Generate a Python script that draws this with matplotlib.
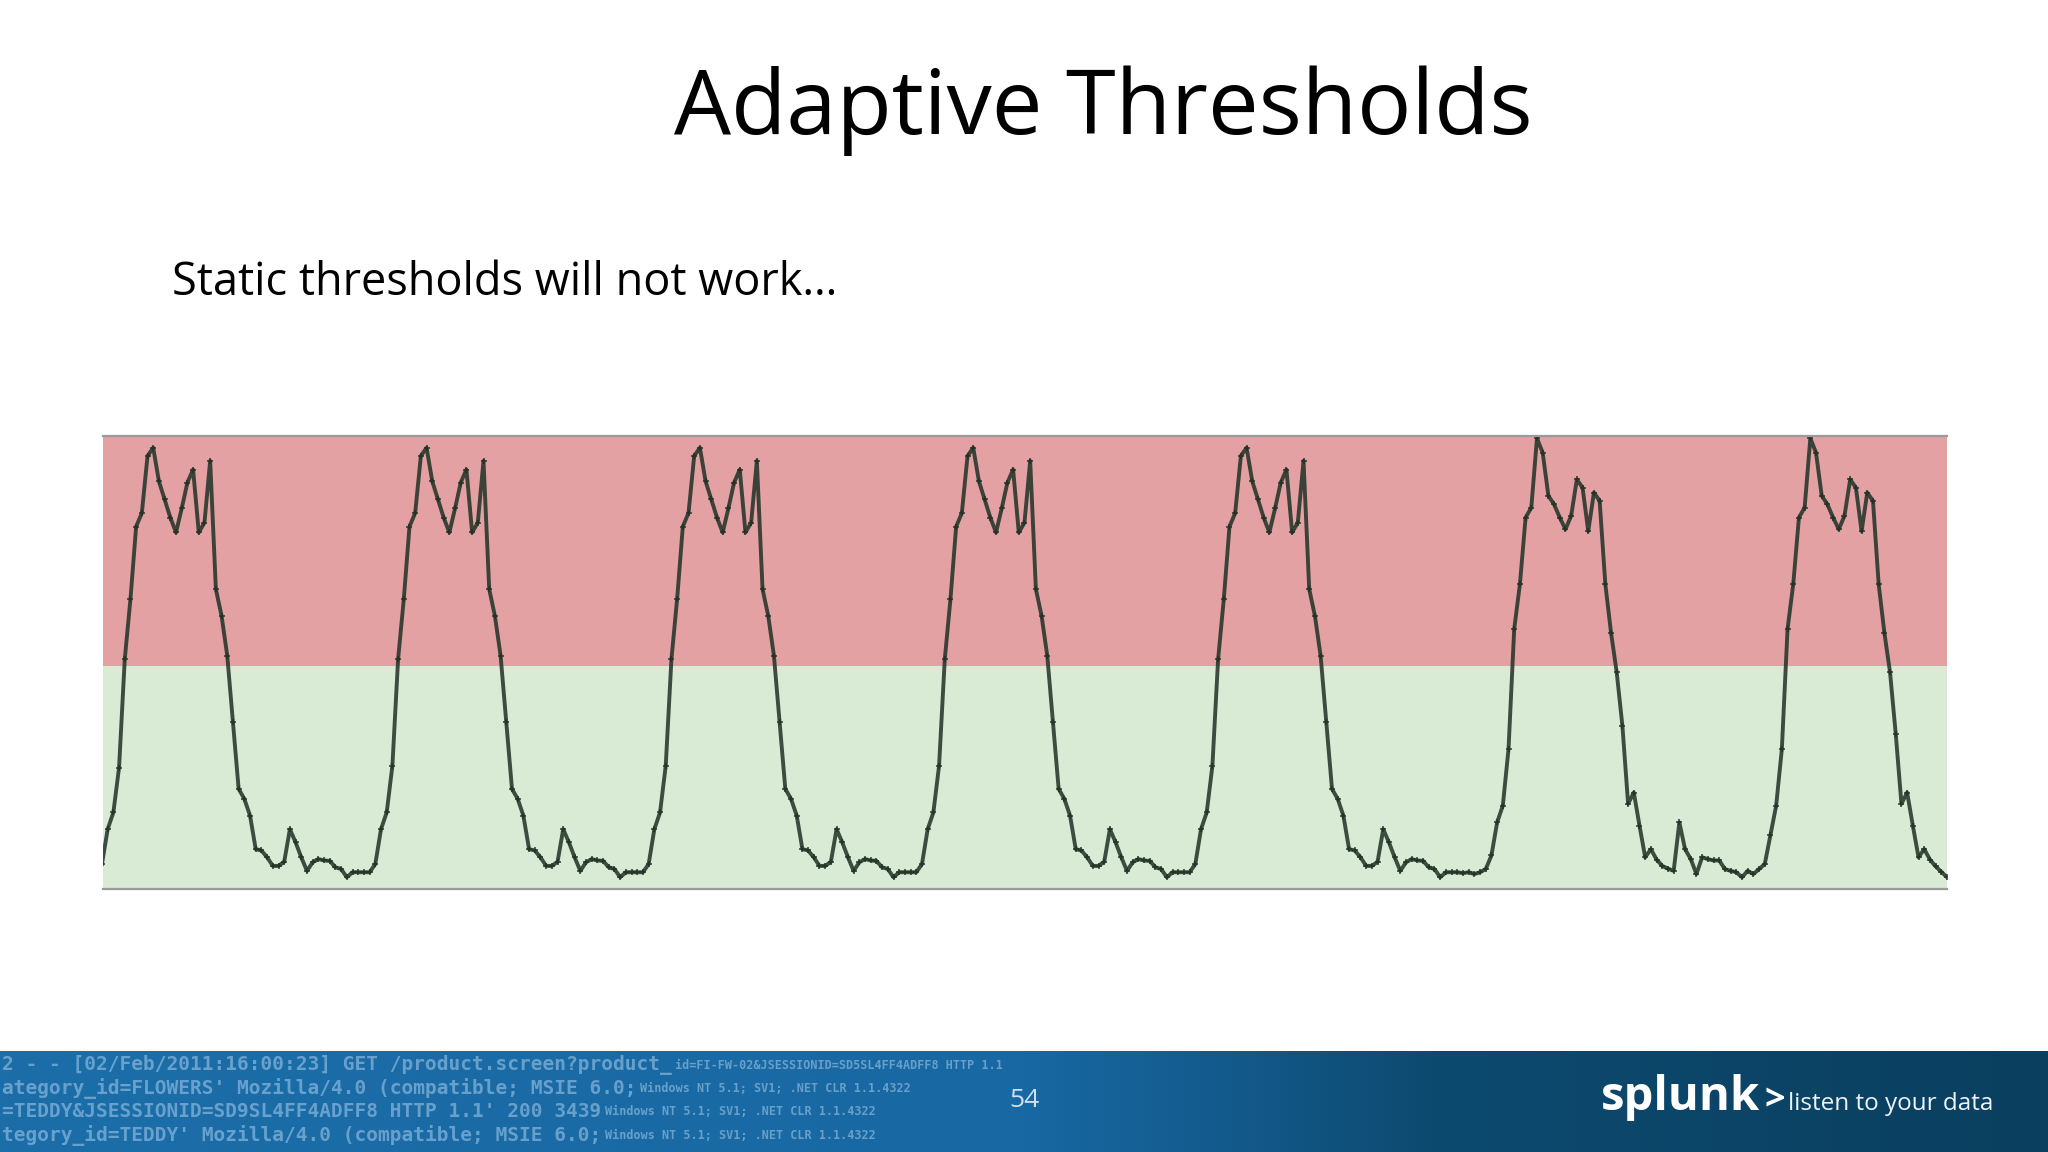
import numpy as np
import matplotlib.pyplot as plt
from matplotlib.colors import LinearSegmentedColormap

# Values: 0 = bottom of the plot, 100 = top, one point per half hour
lead_in = [5.5, 13.2, 16.9, 26.8]
day1 = [50.7, 64.0, 80.0, 83.0, 95.6, 97.4, 90.0, 86.0, 82.0, 78.7, 84.0, 89.7,
        92.6, 78.7, 80.9, 94.5, 66.2, 60.3, 51.5, 36.8, 22.1, 19.9, 16.2, 8.8,
        8.5, 7.0, 5.1, 5.1, 6.0, 13.2, 10.3, 7.0, 4.0, 5.9, 6.6, 6.3,
        6.2, 4.8, 4.4, 2.6, 3.7, 3.7, 3.7, 3.7, 5.5, 13.2, 16.9, 27.2]
day2 = [50.7, 64.0, 80.0, 83.0, 95.6, 97.4, 90.0, 86.0, 82.0, 78.7, 84.0, 89.7,
        92.6, 78.7, 80.9, 94.5, 66.2, 60.3, 51.5, 36.8, 22.1, 19.9, 16.2, 8.8,
        8.5, 7.0, 5.1, 5.1, 6.0, 13.2, 10.3, 7.0, 4.0, 5.9, 6.6, 6.3,
        6.2, 4.8, 4.4, 2.6, 3.7, 3.7, 3.7, 3.7, 5.5, 13.2, 16.9, 27.2]
day3 = [50.7, 64.0, 80.0, 83.0, 95.6, 97.4, 90.0, 86.0, 82.0, 78.7, 84.0, 89.7,
        92.6, 78.7, 80.9, 94.5, 66.2, 60.3, 51.5, 36.8, 22.1, 19.9, 16.2, 8.8,
        8.5, 7.0, 5.1, 5.1, 6.0, 13.2, 10.3, 7.0, 4.0, 5.9, 6.6, 6.3,
        6.2, 4.8, 4.4, 2.6, 3.7, 3.7, 3.7, 3.7, 5.5, 13.2, 16.9, 27.2]
day4 = [50.7, 64.0, 80.0, 83.0, 95.6, 97.4, 90.0, 86.0, 82.0, 78.7, 84.0, 89.7,
        92.6, 78.7, 80.9, 94.5, 66.2, 60.3, 51.5, 36.8, 22.1, 19.9, 16.2, 8.8,
        8.5, 7.0, 5.1, 5.1, 6.0, 13.2, 10.3, 7.0, 4.0, 5.9, 6.6, 6.3,
        6.2, 4.8, 4.4, 2.6, 3.7, 3.7, 3.7, 3.7, 5.5, 13.2, 16.9, 27.2]
day5 = [50.7, 64.0, 80.0, 83.0, 95.6, 97.4, 90.0, 86.0, 82.0, 78.7, 84.0, 89.7,
        92.6, 78.7, 80.9, 94.5, 66.2, 60.3, 51.5, 36.8, 22.1, 19.9, 16.2, 8.8,
        8.5, 7.0, 5.1, 5.1, 6.0, 13.2, 10.3, 7.0, 4.0, 5.9, 6.6, 6.3,
        6.2, 4.8, 4.4, 2.6, 3.7, 3.7, 3.7, 3.5, 3.7, 3.3, 3.7, 4.4,
        7.4, 14.7, 18.4, 30.9]
day6 = [57.4, 67.3, 82.0, 84.2, 99.5, 96.3, 86.8, 84.9, 82.0, 79.4, 82.4, 90.4,
        88.6, 79.0, 87.5, 85.7, 67.3, 56.6, 47.8, 36.0, 18.8, 21.3, 14.0, 7.0,
        8.8, 6.5, 5.1, 4.5, 4.0, 14.7, 8.8, 6.6, 3.3, 7.0, 6.6, 6.3,
        6.3, 4.4, 4.0, 3.7, 2.6, 4.0, 3.3, 4.4, 5.5, 12.0, 18.4, 30.9]
day7 = [57.4, 67.3, 82.0, 84.2, 99.5, 96.3, 86.8, 84.9, 82.0, 79.4, 82.4, 90.4,
        88.6, 79.0, 87.5, 85.7, 67.3, 56.6, 47.8, 34.2, 18.8, 21.3, 14.0, 7.0,
        8.8, 6.5, 5.0, 3.8, 2.6]
threshold = 49.2

values = lead_in + day1 + day2 + day3 + day4 + day5 + day6 + day7
x = np.arange(len(values))

W, H = 2048, 1152
fig = plt.figure(figsize=(W / 100, H / 100), dpi=100)
fig.patch.set_facecolor('white')

# chart
ax = fig.add_axes([103 / W, 1 - 889 / H, (1947 - 103) / W, (889 - 436) / H])
ax.axhspan(threshold, 100, color='#e4a1a4', lw=0)
ax.axhspan(0, threshold, color='#d9ebd5', lw=0)
ax.plot(x, values, color='#1e3124', alpha=0.85, lw=2.8,
        marker='+', ms=5, mew=1.2)
ax.set_xlim(0.18, len(values) - 1)
ax.set_ylim(0, 100)
ax.set_xticks([])
ax.set_yticks([])
for s in ['left', 'right']:
    ax.spines[s].set_visible(False)
for s in ['top', 'bottom']:
    ax.spines[s].set_color('#9a9a9a')
    ax.spines[s].set_linewidth(1.6)

# slide text
fig.text(1103 / W, 1 - 134.5 / H, 'Adaptive Thresholds', family='Open Sans',
         fontsize=65, ha='center', va='baseline', color='black')
fig.text(172 / W, 1 - 295 / H, 'Static thresholds will not work…', family='Open Sans',
         fontsize=32.5, ha='left', va='baseline', color='black')

# footer band
axf = fig.add_axes([0, 0, 1, 101 / H])
band = LinearSegmentedColormap.from_list('band', [(0, '#1c6ea8'), (0.5, '#1868a3'),
                                                  (0.6, '#135a8c'), (0.7, '#0d4a70'),
                                                  (1, '#0a3f5f')])
axf.imshow(np.linspace(0, 1, 512)[None, :], cmap=band, aspect='auto',
           extent=[0, 1, 0, 1])
axf.set_xlim(0, 1)
axf.set_ylim(0, 1)
axf.set_axis_off()

log_lines = [
    ('2 - - [02/Feb/2011:16:00:23] GET /product.screen?product_',
     'id=FI-FW-02&JSESSIONID=SD5SL4FF4ADFF8 HTTP 1.1', 0.86),
    ("ategory_id=FLOWERS' Mozilla/4.0 (compatible; MSIE 6.0;",
     'Windows NT 5.1; SV1; .NET CLR 1.1.4322', 0.63),
    ("=TEDDY&JSESSIONID=SD9SL4FF4ADFF8 HTTP 1.1' 200 3439",
     'Windows NT 5.1; SV1; .NET CLR 1.1.4322', 0.40),
    ("tegory_id=TEDDY' Mozilla/4.0 (compatible; MSIE 6.0;",
     'Windows NT 5.1; SV1; .NET CLR 1.1.4322', 0.16),
]
for main, tail, yy in log_lines:
    axf.text(2 / W, yy, main, family='DejaVu Sans Mono', fontsize=14,
             fontweight='bold', color='#8ab8de', alpha=0.7, ha='left',
             va='center', clip_on=True)
    start = (2 + len(main) * 0.602 * 14 * 100 / 72 + 6) / W
    axf.text(start, yy, tail, family='DejaVu Sans Mono', fontsize=8.5,
             fontweight='bold', color='#b8d8ef', alpha=0.5, ha='left',
             va='center', clip_on=True)

fig.text(0.5, 1 - 1107 / H, '54', family='Open Sans', fontsize=19,
         color='#cfe1ef', ha='center', va='baseline')
fig.text(1601 / W, 1 - 1110 / H, 'splunk', family='Open Sans', fontweight='bold',
         fontsize=34, color='white', ha='left', va='baseline')
fig.text(1764 / W, 1 - 1110 / H, '>', family='Open Sans', fontweight='bold',
         fontsize=26, color='white', ha='left', va='baseline')
fig.text(1788 / W, 1 - 1110 / H, 'listen to your data', family='Open Sans',
         fontsize=17.5, color='#eef3f7', ha='left', va='baseline')

fig.savefig('out.png', dpi=100, facecolor='white')
